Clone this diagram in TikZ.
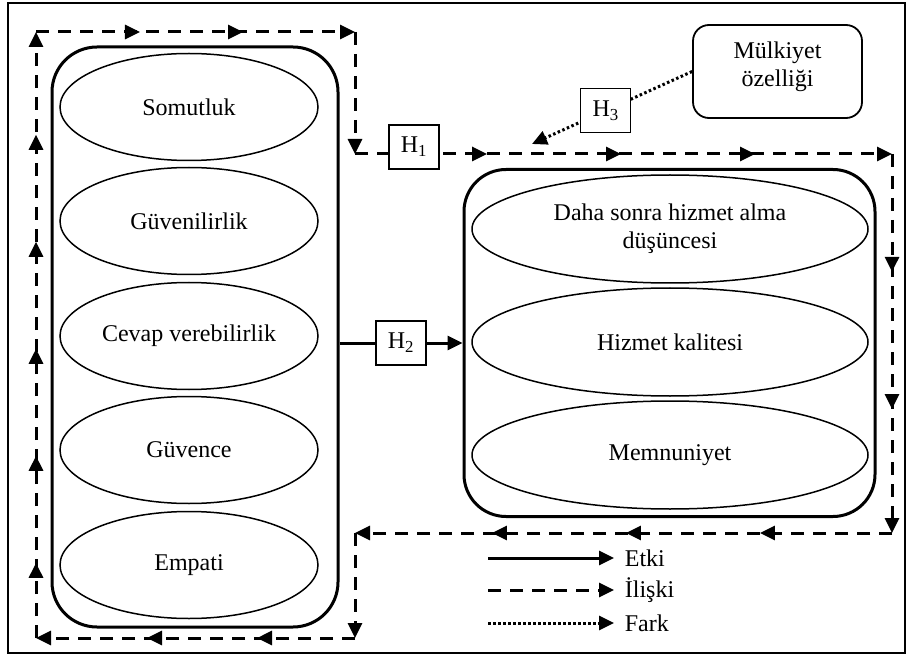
\documentclass[tikz,border=0pt]{standalone}
\usepackage{fontspec}
\setmainfont{Liberation Serif}
\usetikzlibrary{arrows.meta, shapes.geometric, decorations.markings}

\tikzset{
  frm/.style={draw, line width=1.6pt},
  group/.style={draw, line width=3pt, rounded corners=45pt, inner sep=0pt},
  factor/.style={draw, ellipse, line width=1.5pt, inner sep=0pt, minimum width=258pt, minimum height=107pt, align=center},
  hbox/.style={draw, solid, line width=1.5pt, fill=white, minimum width=50pt, minimum height=44pt, inner sep=0pt},
  propbox/.style={draw, line width=1.8pt, rounded corners=16pt, minimum width=169pt, minimum height=93pt, align=center, text depth=15pt},
  effect/.style={line width=3pt},
  rel/.style={line width=3pt, dash pattern=on 13pt off 9pt},
  diff/.style={line width=3pt, dash pattern=on 2.5pt off 2.5pt},
  arrowend/.style={-{Triangle[length=15pt, width=14pt]}},
  midtips/.style n args={3}{postaction={decorate}, decoration={markings, mark=between positions #1 and #2 step #3 with {\arrow{Triangle[length=15pt, width=14pt]}}}}
}

\begin{document}
\begin{tikzpicture}[x=1pt, y=-1pt, font=\fontsize{24}{28}\selectfont]
\useasboundingbox (0,0) rectangle (908,655);
\draw[frm] (8,3) rectangle (905,653);

\node[group, minimum width=286pt, minimum height=580pt] (left) at (195,337) {};
\foreach \y/\txt [count=\i] in {107/Somutluk, 221/Güvenilirlik, 336/Cevap verebilirlik, 450/Güvence, 565/Empati}
  \node[factor] (f\i) at (189,\y) {\txt};

\node[group, rounded corners=42pt, minimum width=411pt, minimum height=347pt] (right) at (669.5,343) {};
\foreach \y/\txt [count=\i] in {229/{Daha sonra hizmet alma\\düşüncesi}, 342/Hizmet kalitesi, 455/Memnuniyet}
  \node[factor, minimum width=396pt, minimum height=108pt] (g\i) at (670,\y) {\txt};

\node[propbox] (mulk) at (777.5,71.5) {Mülkiyet\\özelliği};

\coordinate (bl) at (36,638);
\coordinate (tl) at (36,32);
\coordinate (tm) at (355,32);
\coordinate (mm) at (355,154);
\coordinate (mr) at (892,154);
\coordinate (br) at (892,533);
\coordinate (bm) at (355,533);
\coordinate (bb) at (355,638);
\coordinate (h3tip) at (532,144);

\draw[rel, arrowend, midtips={0.124}{0.84}{0.1766}] (bl) -- (tl);
\draw[rel, arrowend, midtips={0.326}{0.7}{0.323}] (tl) -- (tm);
\draw[rel, arrowend] (tm) -- (mm);
\draw[rel, arrowend, midtips={0.246}{0.8}{0.2495}] (mm) -- (mr);
\draw[rel, arrowend, midtips={0.311}{0.7}{0.362}] (mr) -- (br);
\draw[rel, arrowend, midtips={0.246}{0.8}{0.2495}] (br) -- (bm);
\draw[rel, arrowend] (bm) -- (bb);
\draw[rel, arrowend, midtips={0.307}{0.7}{0.345}] (bb) -- (bl);

\node[hbox] (h1) at (414,147) {H\textsubscript{1}};
\draw[effect, arrowend] (left.east |- right.west) -- node[hbox] (h2) {H\textsubscript{2}} (right.west);
\draw[diff, arrowend] (mulk.west) -- node[hbox, pos=0.54] (h3) {H\textsubscript{3}} (h3tip);

\coordinate (k1) at (488,558);
\coordinate (k2) at (488,590);
\coordinate (k3) at (488,623);
\draw[effect, arrowend] (k1) -- ++(126,0) node[right, xshift=6pt] (lab1) {Etki};
\draw[rel, arrowend] (k2) -- ++(126,0) node[right, xshift=6pt] (lab2) {İlişki};
\draw[diff, arrowend] (k3) -- ++(126,0) node[right, xshift=6pt] (lab3) {Fark};
\end{tikzpicture}
\end{document}
